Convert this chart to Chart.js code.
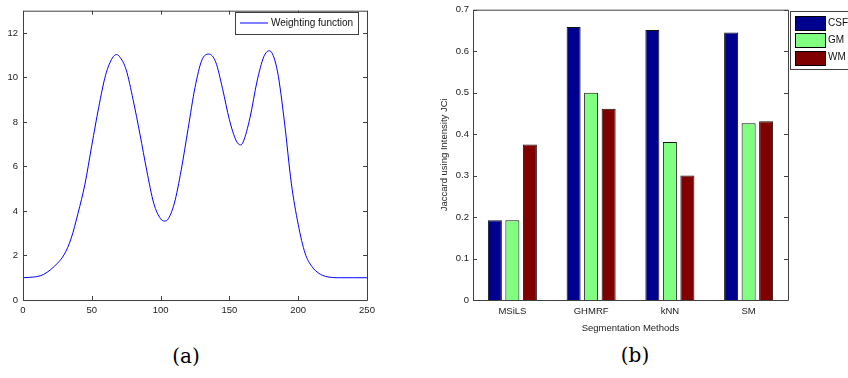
<!DOCTYPE html>
<html>
<head>
<meta charset="utf-8">
<script src="https://cdn.jsdelivr.net/npm/chart.js@4.4.0/dist/chart.umd.min.js"></script>
<style>
body { margin: 0; background: #fff; width: 848px; height: 378px; overflow: hidden; position: relative; }
.wrap { position: absolute; top: 0; height: 340px; }
.cap { position: absolute; font-family: 'DejaVu Serif', serif; font-size: 20px; color: #000; transform: translate(-50%, -50%); }
</style>
</head>
<body>
<div class="wrap" style="left:0;width:400px"><canvas id="weightChart"></canvas></div>
<div class="wrap" style="left:420px;width:428px"><canvas id="jaccardChart"></canvas></div>
<div class="cap" style="left:186px;top:356px">(a)</div>
<div class="cap" style="left:635px;top:355px">(b)</div>
<script>
// (a) weighting function
const weightX = [0, 5, 10, 15, 20, 25, 30, 35, 40, 45, 50, 55, 60, 65, 68, 70, 75, 80, 85, 90, 95, 100, 103, 105,
    110, 115, 120, 125, 130, 135, 140, 145, 150, 155, 158, 160, 165, 170, 175, 179, 180, 185, 190, 195, 200,
    205, 210, 215, 220, 225, 230, 240, 250];
const weightY = [1.0, 1.02, 1.05, 1.15, 1.36, 1.65, 2.05, 2.77, 3.9, 5.2, 6.95, 8.65, 10.1, 10.88, 11.03, 10.95, 10.34, 9.0, 7.45, 5.8, 4.35, 3.65, 3.55, 3.6,
    4.35, 5.85, 7.7, 9.55, 10.78, 11.05, 10.7, 9.5, 8.1, 7.15, 6.97, 7.1, 8.2, 9.8, 10.93, 11.2, 11.18, 10.25, 8.0, 5.25, 3.4,
    2.1, 1.5, 1.2, 1.06, 1.01, 1.0, 1.0, 1.0];

// (b) Jaccard scores per segmentation method
const methods = ['MSiLS', 'GHMRF', 'kNN', 'SM'];
const csfScores = [0.192, 0.658, 0.651, 0.645];
const gmScores = [0.192, 0.500, 0.381, 0.426];
const wmScores = [0.375, 0.461, 0.300, 0.431];

Chart.defaults.font.family = '"Liberation Sans", Arial, sans-serif';
Chart.defaults.font.size = 9.5;
Chart.defaults.color = '#222';

const AXIS_COLOR = '#404040';
const LINE_BLUE = '#0000ff';

// matlab style box with inward ticks on all four sides
const matBox = {
    id: 'matBox',
    afterDatasetsDraw(chart, args, opts) {
        const {ctx, chartArea: a} = chart;
        const len = opts.tickLen || 4;
        ctx.save();
        ctx.strokeStyle = AXIS_COLOR;
        ctx.lineWidth = 1;
        ctx.beginPath();
        ctx.rect(a.left + 0.5, a.top + 0.5, a.right - a.left, a.bottom - a.top);
        (opts.axes || []).forEach(id => {
            const scale = chart.scales[id];
            scale.ticks.forEach(t => {
                const p = Math.round(scale.getPixelForValue(t.value)) + 0.5;
                if (scale.isHorizontal()) {
                    ctx.moveTo(p, a.bottom); ctx.lineTo(p, a.bottom - len);
                    ctx.moveTo(p, a.top); ctx.lineTo(p, a.top + len);
                } else {
                    ctx.moveTo(a.left, p); ctx.lineTo(a.left + len, p);
                    ctx.moveTo(a.right, p); ctx.lineTo(a.right - len, p);
                }
            });
        });
        ctx.stroke();
        ctx.restore();
    }
};

// boxed legend like matlab's
const boxLegend = {
    id: 'boxLegend',
    afterDraw(chart, args, o) {
        const ctx = chart.ctx;
        ctx.save();
        ctx.fillStyle = '#fff';
        ctx.fillRect(o.x, o.y, o.w, o.h);
        ctx.strokeStyle = AXIS_COLOR;
        ctx.lineWidth = 1;
        ctx.strokeRect(o.x + 0.5, o.y + 0.5, o.w, o.h);
        ctx.font = o.font;
        ctx.textBaseline = 'middle';
        chart.data.datasets.forEach((ds, i) => {
            const cy = o.y + o.first + i * o.rowH;
            const sx = o.x + o.pad;
            if (o.kind === 'line') {
                // on a whole pixel so it softens like the plotted curve
                const y = Math.round(cy);
                ctx.beginPath();
                ctx.strokeStyle = LINE_BLUE;
                ctx.lineWidth = 1;
                ctx.moveTo(sx, y);
                ctx.lineTo(sx + o.swatchW, y);
                ctx.stroke();
            } else {
                const top = Math.round(cy - o.swatchH / 2);
                ctx.fillStyle = ds.backgroundColor;
                ctx.fillRect(sx, top, o.swatchW, o.swatchH);
                ctx.strokeStyle = '#000';
                ctx.lineWidth = 1;
                ctx.strokeRect(sx + 0.5, top + 0.5, o.swatchW, o.swatchH);
            }
            ctx.fillStyle = '#111';
            ctx.fillText(ds.label, sx + o.swatchW + o.gap, cy);
        });
        ctx.restore();
    }
};

new Chart(document.getElementById('weightChart'), {
    type: 'line',
    data: {
        datasets: [{
            label: 'Weighting function',
            data: weightX.map((x, i) => ({x: x, y: weightY[i]})),
            borderColor: LINE_BLUE,
            borderWidth: 1,
            pointRadius: 0,
            cubicInterpolationMode: 'monotone',
            fill: false
        }]
    },
    options: {
        responsive: true,
        maintainAspectRatio: false,
        animation: false,
        layout: {autoPadding: false, padding: {left: 0, right: 33, top: 7, bottom: 0}},
        plugins: {
            legend: {display: false},
            tooltip: {enabled: false},
            matBox: {axes: ['x', 'y'], tickLen: 4},
            boxLegend: {kind: 'line', x: 235, y: 12, w: 123, h: 22, pad: 5, first: 11, rowH: 0,
                swatchW: 28, gap: 3, font: '10px "Liberation Sans", Arial, sans-serif'}
        },
        scales: {
            x: {
                type: 'linear', min: 0, max: 250,
                ticks: {stepSize: 50, padding: 5, maxRotation: 0},
                grid: {display: false, drawTicks: false},
                border: {display: false},
                afterFit: s => { s.height = 40; }
            },
            y: {
                min: 0, max: 13,
                ticks: {stepSize: 2, padding: 5},
                afterBuildTicks: s => { s.ticks = s.ticks.filter(t => t.value % 2 === 0); },
                grid: {display: false, drawTicks: false},
                border: {display: false},
                afterFit: s => { s.width = 23; }
            }
        }
    },
    plugins: [matBox, boxLegend]
});

new Chart(document.getElementById('jaccardChart'), {
    type: 'bar',
    data: {
        labels: methods,
        datasets: [
            {label: 'CSF', data: csfScores, backgroundColor: '#00008f'},
            {label: 'GM', data: gmScores, backgroundColor: '#80ff80'},
            {label: 'WM', data: wmScores, backgroundColor: '#800000'}
        ].map(ds => Object.assign(ds, {
            borderColor: '#111', borderWidth: 1, barPercentage: 0.8, categoryPercentage: 0.667
        }))
    },
    options: {
        responsive: true,
        maintainAspectRatio: false,
        animation: false,
        layout: {autoPadding: false, padding: {left: 0, right: 60, top: 7, bottom: 0}},
        plugins: {
            legend: {display: false},
            tooltip: {enabled: false},
            matBox: {axes: ['y'], tickLen: 4},
            boxLegend: {kind: 'patch', x: 370, y: 11, w: 80, h: 58, pad: 5, first: 12, rowH: 17.25,
                swatchW: 30, swatchH: 14, gap: 3, font: '10px "Liberation Sans", Arial, sans-serif'}
        },
        scales: {
            x: {
                ticks: {padding: 6},
                grid: {display: false, drawTicks: false},
                border: {display: false},
                title: {display: true, text: 'Segmentation Methods', font: {size: 9.5}, padding: {top: 0, bottom: 6}},
                afterFit: s => { s.height = 40; }
            },
            y: {
                min: 0, max: 0.7,
                ticks: {stepSize: 0.1, padding: 4},
                grid: {display: false, drawTicks: false},
                border: {display: false},
                title: {display: true, text: 'Jaccard using Intensity JCi', font: {size: 9.5}, padding: {top: 19, bottom: 0}},
                afterFit: s => { s.width = 53; }
            }
        }
    },
    plugins: [matBox, boxLegend]
});
</script>
</body>
</html>
